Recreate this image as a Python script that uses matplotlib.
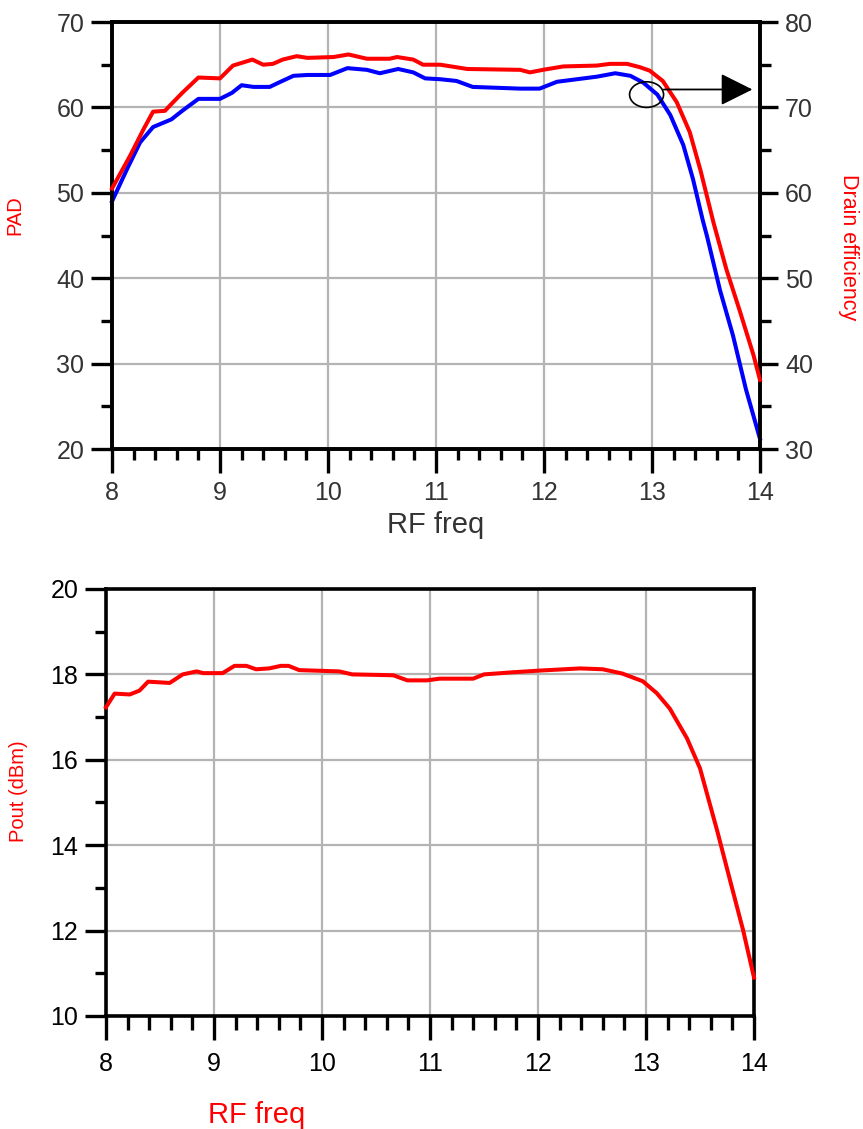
import numpy as np
import matplotlib.pyplot as plt
from matplotlib.patches import Ellipse
from matplotlib.ticker import MultipleLocator

plt.rcParams['font.family'] = ['Liberation Sans', 'DejaVu Sans']

# PAD (blue, left axis of top chart)
pad_f = [8.0, 8.14, 8.26, 8.38, 8.55, 8.65, 8.80, 9.0, 9.11, 9.20, 9.31, 9.46, 9.56,
         9.68, 9.81, 10.02, 10.18, 10.36, 10.48, 10.65, 10.79, 10.90, 11.04, 11.19,
         11.34, 11.78, 11.96, 12.12, 12.49, 12.66, 12.80, 12.92, 13.05, 13.17, 13.29,
         13.38, 13.47, 13.51, 13.63, 13.75, 13.87, 14.0]
pad_v = [49.0, 52.8, 55.9, 57.7, 58.6, 59.6, 61.0, 61.0, 61.7, 62.6, 62.4, 62.4, 63.0,
         63.7, 63.8, 63.8, 64.6, 64.4, 64.0, 64.5, 64.1, 63.4, 63.3, 63.1,
         62.4, 62.2, 62.2, 63.0, 63.6, 64.0, 63.7, 62.9, 61.5, 59.1, 55.6,
         51.6, 46.8, 44.9, 38.6, 33.3, 27.0, 21.2]

# drain efficiency (red, right axis of top chart)
eff_f = [8.0, 8.17, 8.29, 8.38, 8.49, 8.55, 8.65, 8.80, 9.0, 9.12, 9.30, 9.40, 9.49,
         9.58, 9.71, 9.81, 10.05, 10.19, 10.36, 10.57, 10.64, 10.79, 10.88, 11.04,
         11.29, 11.78, 11.87, 11.99, 12.18, 12.49, 12.61, 12.77, 12.89, 12.98, 13.10,
         13.23, 13.35, 13.45, 13.57, 13.69, 13.81, 13.94, 14.0]
eff_v = [60.5, 64.4, 67.4, 69.5, 69.6, 70.4, 71.7, 73.5, 73.4, 74.9, 75.6, 75.0, 75.1,
         75.6, 76.0, 75.8, 75.9, 76.2, 75.7, 75.7, 75.9, 75.6, 75.0, 75.0,
         74.5, 74.4, 74.1, 74.4, 74.8, 74.9, 75.1, 75.1, 74.7, 74.3, 73.1,
         70.6, 67.1, 62.6, 56.5, 51.0, 46.3, 41.0, 38.1]

# output power (bottom chart)
pout_f = [8.0, 8.08, 8.22, 8.31, 8.39, 8.59, 8.71, 8.84, 8.90, 9.08, 9.19, 9.30, 9.39,
          9.51, 9.62, 9.69, 9.79, 10.16, 10.28, 10.66, 10.79, 10.97, 11.09, 11.40,
          11.5, 11.77, 12.02, 12.39, 12.6, 12.78, 12.97, 13.1, 13.22, 13.38, 13.5,
          13.66, 13.78, 13.9, 14.0]
pout_v = [17.23, 17.55, 17.53, 17.62, 17.83, 17.8, 18.0, 18.07, 18.03, 18.03, 18.2, 18.2,
          18.12, 18.14, 18.2, 18.2, 18.1, 18.07, 18.0, 17.98, 17.86, 17.86, 17.9, 17.9,
          18.0, 18.05, 18.09, 18.14, 18.12, 18.02, 17.84, 17.56, 17.2, 16.5, 15.8,
          14.33, 13.16, 12.0, 10.9]

RED = '#ff0000'
BLUE = '#0000ff'
GRID = '#b4b4b4'


def style_axis(ax, tick_color):
    for s in ax.spines.values():
        s.set_linewidth(2.6)
    ax.xaxis.set_major_locator(MultipleLocator(1))
    ax.xaxis.set_minor_locator(MultipleLocator(0.2))
    ax.tick_params(axis='x', which='major', direction='out', length=17, width=2.4,
                   labelsize=18, pad=6, colors='k', labelcolor=tick_color)
    ax.tick_params(axis='x', which='minor', direction='out', length=8, width=2.4)
    ax.tick_params(axis='y', which='major', direction='out', length=15, width=2.4,
                   labelsize=18, pad=5, labelcolor=tick_color)
    ax.tick_params(axis='y', which='minor', direction='out', length=8, width=2.4)
    ax.grid(True, which='major', color=GRID, linewidth=1.6)
    ax.set_axisbelow(True)


fig = plt.figure(figsize=(8.63, 11.29), dpi=100)

# ---- top chart: PAD and drain efficiency
ax1 = fig.add_axes([0.1298, 0.6023, 0.7508, 0.3782])
ax1.plot(pad_f, pad_v, color=BLUE, linewidth=2.9, clip_on=False, zorder=3)
ax1.set_xlim(8, 14)
ax1.set_ylim(20, 70)
ax1.yaxis.set_major_locator(MultipleLocator(10))
ax1.yaxis.set_minor_locator(MultipleLocator(5))
style_axis(ax1, '#333333')
ax1.set_xlabel('RF freq', fontsize=21, color='#333333', labelpad=4)
ax1.set_ylabel('PAD', fontsize=14.5, color=RED)
ax1.yaxis.set_label_coords(-0.136, 0.548)

ax2 = ax1.twinx()
ax2.plot(eff_f, eff_v, color=RED, linewidth=2.9, clip_on=False, zorder=3)
ax2.set_ylim(30, 80)
ax2.yaxis.set_major_locator(MultipleLocator(10))
ax2.yaxis.set_minor_locator(MultipleLocator(5))
for s in ax2.spines.values():
    s.set_linewidth(2.6)
ax2.tick_params(axis='y', which='major', direction='out', length=13, width=2.4,
                labelsize=18, pad=5, labelcolor='#333333')
ax2.tick_params(axis='y', which='minor', direction='out', length=8, width=2.4)
ax2.set_ylabel('Drain efficiency', fontsize=15.5, color=RED, rotation=-90, va='center')
ax2.yaxis.set_label_coords(1.137, 0.473)

# circle around the efficiency curve with arrow to the right axis
ax2.add_patch(Ellipse((12.95, 71.5), 0.315, 3.0, fill=False, edgecolor='k', linewidth=1.2, zorder=5))
ax2.annotate('', xy=(13.93, 72.1), xytext=(13.11, 72.1),
             arrowprops=dict(arrowstyle='-|>,head_length=1.0,head_width=0.5',
                             color='k', lw=1.3, mutation_scale=20, shrinkA=0, shrinkB=0),
             zorder=5)

# ---- bottom chart: Pout
ax3 = fig.add_axes([0.1228, 0.1001, 0.7509, 0.3782])
ax3.plot(pout_f, pout_v, color=RED, linewidth=2.9, clip_on=False, zorder=3)
ax3.set_xlim(8, 14)
ax3.set_ylim(10, 20)
ax3.yaxis.set_major_locator(MultipleLocator(2))
ax3.yaxis.set_minor_locator(MultipleLocator(1))
style_axis(ax3, 'k')
ax3.tick_params(axis='x', which='major', length=17, pad=9)
ax3.tick_params(axis='x', which='minor', length=10)
ax3.set_xlabel('RF freq', fontsize=21, color=RED)
ax3.xaxis.set_label_coords(0.232, -0.2)
ax3.set_ylabel('Pout (dBm)', fontsize=14.5, color=RED)
ax3.yaxis.set_label_coords(-0.12, 0.527)

fig.savefig('out.png', dpi=100)
